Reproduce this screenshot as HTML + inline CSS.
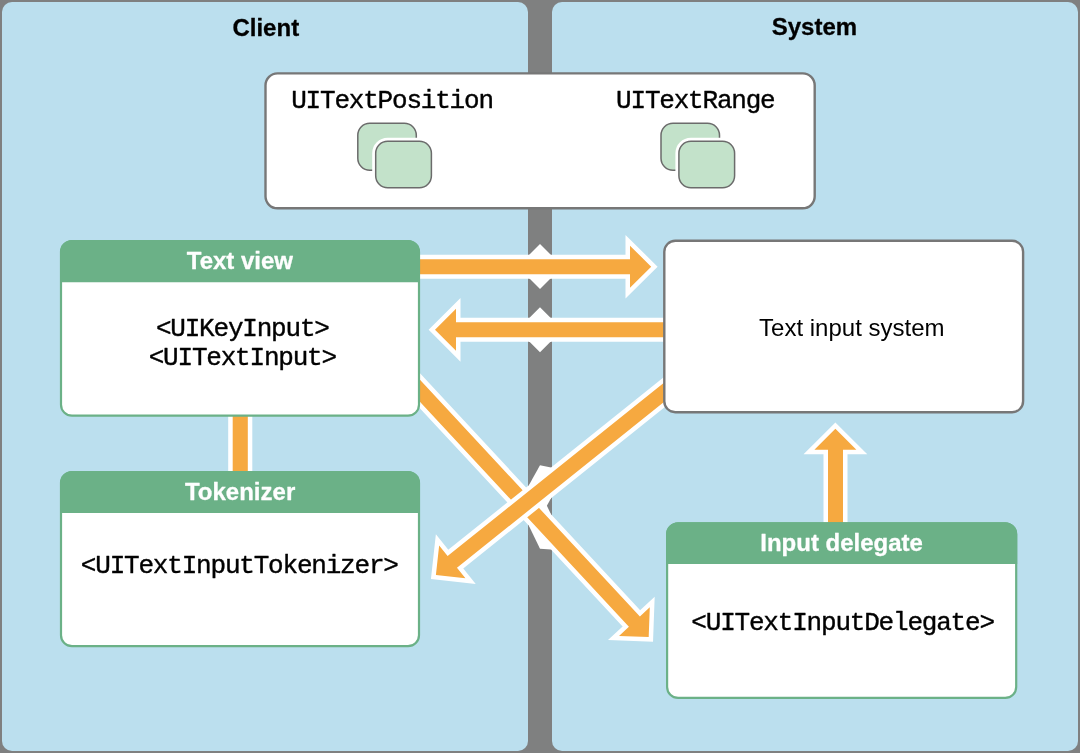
<!DOCTYPE html>
<html>
<head>
<meta charset="utf-8">
<title>Text input system</title>
<style>
html,body{margin:0;padding:0;background:#7f8080;}
body{width:1080px;height:753px;overflow:hidden;position:relative;font-family:"Liberation Sans",sans-serif;}
svg{position:absolute;left:0;top:0;display:block;}
.b{font-family:"Liberation Sans",sans-serif;font-weight:bold;font-size:24px;stroke-width:0.3px;stroke-linejoin:round;}
.r{font-family:"Liberation Sans",sans-serif;font-size:24px;}
.m{font-family:"Liberation Mono",monospace;font-size:26px;letter-spacing:-1.2px;stroke:#000;stroke-width:0.4px;stroke-linejoin:round;}
</style>
</head>
<body>
<svg width="1080" height="753" viewBox="0 0 1080 753">
  <!-- background -->
  <rect x="0" y="0" width="1080" height="753" fill="#7f8080"/>
  <!-- panels -->
  <rect x="2" y="2" width="526" height="749" rx="10" ry="10" fill="#bbdfee"/>
  <rect x="552" y="2" width="526" height="749" rx="10" ry="10" fill="#bbdfee"/>

  <!-- white notch markers on divider -->
  <g fill="#ffffff">
    <polygon points="529,262 529,255 540,244 551,255 551,262"/>
    <polygon points="529,271 529,278 540,289 551,278 551,271"/>
    <polygon points="529,325 529,318.3 540,307.3 551,318.3 551,325"/>
    <polygon points="529,334 529,341.3 540,352.3 551,341.3 551,334"/>
    <!-- arrow 3 -->
    <polygon points="529,500 529,490.6 540,491.5 551,514.3 551,524"/>
    <polygon points="529,516 529,525.9 540,548.7 551,549.6 551,540"/>
    <!-- arrow 4 -->
    <polygon points="529,495 529,485.1 540,465.3 551,467.5 551,477"/>
    <polygon points="529,506 529,515.9 540,518.1 551,498.3 551,488"/>
  </g>

  <!-- arrows -->
  <g fill="#f6a940" stroke="#ffffff" stroke-width="9" stroke-linejoin="miter" stroke-miterlimit="10" paint-order="stroke fill">
    <!-- connector line -->
    <rect x="232.7" y="395" width="15.1" height="100"/>
    <!-- arrow 1 -->
    <path d="M395,259.2 L630,259.2 L630,245.7 L651.2,266.7 L630,287.7 L630,274.2 L395,274.2 Z"/>
    <!-- arrow 2 -->
    <path d="M690,322.3 L456,322.3 L456,308.8 L435,329.8 L456,350.8 L456,337.3 L690,337.3 Z"/>
    <!-- arrow 5 -->
    <path d="M828,545 L828,449.8 L814.4,449.8 L835.4,428.8 L856.4,449.8 L843,449.8 L843,545 Z"/>
    <!-- arrow 3 -->
    <path transform="translate(648.7,637.0) rotate(47.1)" d="M-355,-7.5 L-21,-7.5 L-21,-21 L0,0 L-21,21 L-21,7.5 L-355,7.5 Z"/>
    <!-- arrow 4 -->
    <path transform="translate(435.9,575.1) rotate(141.3)" d="M-315,-7.5 L-21,-7.5 L-21,-21 L0,0 L-21,21 L-21,7.5 L-315,7.5 Z"/>
  </g>

  <!-- top box -->
  <rect x="265.5" y="73.4" width="549.2" height="134.9" rx="12" ry="12" fill="#ffffff" stroke="#777777" stroke-width="2.4"/>
  <!-- stacked icons -->
  <g fill="#c3e2ca" stroke="#6b6b6b" stroke-width="1.5">
    <rect x="357.8" y="123.3" width="58.5" height="47" rx="12" ry="12"/>
    <rect x="375.7" y="141.3" width="55.7" height="46.5" rx="12" ry="12" stroke="#ffffff" stroke-width="7"/>
    <rect x="375.7" y="141.3" width="55.7" height="46.5" rx="12" ry="12"/>
    <rect x="661" y="123.3" width="58.5" height="47" rx="12" ry="12"/>
    <rect x="678.9" y="141.3" width="55.7" height="46.5" rx="12" ry="12" stroke="#ffffff" stroke-width="7"/>
    <rect x="678.9" y="141.3" width="55.7" height="46.5" rx="12" ry="12"/>
  </g>

  <!-- Text view -->
  <rect x="61" y="241" width="358" height="174.7" rx="11" ry="11" fill="#ffffff" stroke="#6bb187" stroke-width="2.2"/>
  <path d="M60,282.2 L60,252 A12,12 0 0 1 72,240 L408,240 A12,12 0 0 1 420,252 L420,282.2 Z" fill="#6bb187"/>
  <!-- Tokenizer -->
  <rect x="61" y="472" width="358" height="174.2" rx="11" ry="11" fill="#ffffff" stroke="#6bb187" stroke-width="2.2"/>
  <path d="M60,513.1 L60,483 A12,12 0 0 1 72,471 L408,471 A12,12 0 0 1 420,483 L420,513.1 Z" fill="#6bb187"/>
  <!-- Input delegate -->
  <rect x="667.1" y="523.3" width="349.1" height="174.6" rx="11" ry="11" fill="#ffffff" stroke="#6bb187" stroke-width="2.2"/>
  <path d="M666.1,563.9 L666.1,534.3 A12,12 0 0 1 678.1,522.3 L1005.2,522.3 A12,12 0 0 1 1017.2,534.3 L1017.2,563.9 Z" fill="#6bb187"/>
  <!-- Text input system -->
  <rect x="664.3" y="240.8" width="358.8" height="171.4" rx="11" ry="11" fill="#ffffff" stroke="#777777" stroke-width="2.4"/>

  <!-- text -->
  <g style="will-change:opacity" opacity="0.999">
  <text class="b" x="265.8" y="35.5" text-anchor="middle" fill="#000" stroke="#000">Client</text>
  <text class="b" x="814.4" y="35.3" text-anchor="middle" fill="#000" stroke="#000">System</text>
  <text class="m" x="392.0" y="108.3" text-anchor="middle" fill="#000">UITextPosition</text>
  <text class="m" x="695.3" y="108.4" text-anchor="middle" fill="#000">UITextRange</text>
  <text class="b" x="239.9" y="269.2" text-anchor="middle" fill="#fff" stroke="#fff">Text view</text>
  <text class="m" x="242.3" y="335.9" text-anchor="middle" fill="#000">&lt;UIKeyInput&gt;</text>
  <text class="m" x="242.3" y="364.7" text-anchor="middle" fill="#000">&lt;UITextInput&gt;</text>
  <text class="b" x="240.1" y="500" text-anchor="middle" fill="#fff" stroke="#fff">Tokenizer</text>
  <text class="m" x="239.3" y="573.2" text-anchor="middle" fill="#000">&lt;UITextInputTokenizer&gt;</text>
  <text class="r" x="851.8" y="335.6" text-anchor="middle" fill="#000">Text input system</text>
  <text class="b" x="841.6" y="551.2" text-anchor="middle" fill="#fff" stroke="#fff">Input delegate</text>
  <text class="m" x="842.6" y="630.4" text-anchor="middle" fill="#000">&lt;UITextInputDelegate&gt;</text>
  </g>
</svg>
</body>
</html>
